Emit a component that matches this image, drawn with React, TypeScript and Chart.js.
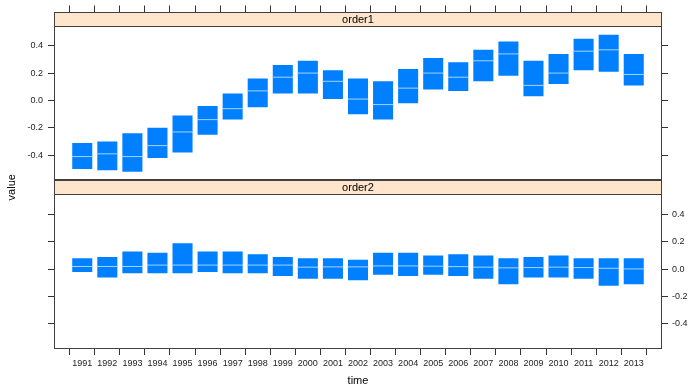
import { useEffect, useRef } from 'react';
import { Chart, registerables } from 'chart.js';

Chart.register(...registerables);

const years = [1991, 1992, 1993, 1994, 1995, 1996, 1997, 1998, 1999, 2000, 2001, 2002, 2003, 2004, 2005, 2006, 2007, 2008, 2009, 2010, 2011, 2012, 2013];
const panels = ['order1', 'order2'];

const order1High = [-0.31, -0.30, -0.24, -0.20, -0.11, -0.04, 0.05, 0.16, 0.26, 0.29, 0.22, 0.16, 0.14, 0.23, 0.31, 0.28, 0.37, 0.43, 0.29, 0.34, 0.45, 0.48, 0.34];
const order1Low = [-0.50, -0.51, -0.52, -0.42, -0.38, -0.25, -0.14, -0.05, 0.05, 0.05, 0.01, -0.10, -0.14, -0.02, 0.08, 0.07, 0.14, 0.18, 0.03, 0.12, 0.22, 0.21, 0.11];
const order1Median = [-0.41, -0.39, -0.41, -0.33, -0.23, -0.14, -0.06, 0.07, 0.17, 0.20, 0.14, 0.01, -0.03, 0.09, 0.20, 0.17, 0.29, 0.34, 0.11, 0.20, 0.36, 0.37, 0.19];

const order2High = [0.08, 0.09, 0.13, 0.12, 0.19, 0.13, 0.13, 0.11, 0.09, 0.08, 0.08, 0.07, 0.12, 0.12, 0.10, 0.11, 0.10, 0.08, 0.09, 0.10, 0.08, 0.08, 0.08];
const order2Low = [-0.02, -0.06, -0.03, -0.03, -0.03, -0.02, -0.03, -0.03, -0.05, -0.07, -0.07, -0.08, -0.04, -0.05, -0.04, -0.05, -0.07, -0.11, -0.06, -0.06, -0.07, -0.12, -0.11];
const order2Median = [0.02, 0.02, 0.02, 0.03, 0.03, 0.03, 0.03, 0.03, 0.03, 0.015, 0.017, 0.017, 0.024, 0.024, 0.022, 0.019, 0.015, 0.01, 0.012, 0.015, 0.012, 0.007, 0.002];

const yTicks = [-0.4, -0.2, 0.0, 0.2, 0.4];
const yMin = -0.583;
const yMax = 0.65;
const xMin = 1990.4;
const xMax = 2013.6;

const FONT = "'Liberation Sans', Arial, Helvetica, sans-serif";
const BAR = '#0080ff';
const MEDIAN = '#a6d3ff';
const STRIP = '#ffe5cc';
const LINE = '#404040';

function yAxis(position: 'left' | 'right', weight: number, showLabels: boolean, width: number) {
  return {
    type: 'linear',
    position,
    stack: position,
    stackWeight: 1,
    weight,
    min: yMin,
    max: yMax,
    afterBuildTicks: (s: any) => {
      s.ticks = yTicks.map((v) => ({ value: v }));
    },
    afterFit: (s: any) => {
      s.width = width;
    },
    grid: { drawOnChartArea: false, drawTicks: true, tickLength: 6, tickColor: '#333', tickWidth: 1 },
    border: { display: false },
    ticks: {
      padding: position === 'left' ? 5 : 4,
      color: '#222',
      font: { family: FONT, size: 9 },
      callback: (v: any) => (showLabels ? Number(v).toFixed(1) : ''),
    },
  };
}

const latticePlugin = {
  id: 'lattice',
  afterDraw(chart: any) {
    const { ctx, chartArea } = chart;
    const ids = ['yTop', 'yBot'];
    const left = chartArea.left;
    const right = chartArea.right;
    ctx.save();
    ids.forEach((id, i) => {
      const s = chart.scales[id];
      const top = Math.round(s.top);
      const bottom = Math.round(s.bottom);
      const stripH = 14;
      ctx.fillStyle = STRIP;
      ctx.fillRect(left, top, right - left, stripH);
      ctx.strokeStyle = LINE;
      ctx.lineWidth = 1;
      ctx.beginPath();
      ctx.moveTo(left, top + stripH + 0.5);
      ctx.lineTo(right, top + stripH + 0.5);
      ctx.stroke();
      ctx.strokeRect(left + 0.5, top + 0.5, right - left - 1, bottom - top - 1);
      ctx.fillStyle = '#000';
      ctx.font = `11px ${FONT}`;
      ctx.textAlign = 'center';
      ctx.textBaseline = 'middle';
      ctx.fillText(panels[i], (left + right) / 2, top + stripH / 2 + 0.5);
    });
    ctx.translate(12, (chartArea.top + chartArea.bottom) / 2 + 7);
    ctx.rotate(-Math.PI / 2);
    ctx.fillStyle = '#000';
    ctx.font = `11px ${FONT}`;
    ctx.textAlign = 'center';
    ctx.textBaseline = 'middle';
    ctx.fillText('value', 0, 0);
    ctx.restore();
  },
};

export default function App() {
  const ref = useRef<HTMLCanvasElement>(null);
  useEffect(() => {
    const canvas = ref.current!;
    const chart = new Chart(canvas, {
      type: 'bar',
      data: {
        datasets: [
          {
            type: 'line',
            label: 'order1 median',
            data: years.map((x, i) => ({ x, y: order1Median[i] })),
            xAxisID: 'x',
            yAxisID: 'yTop',
            showLine: false,
            pointStyle: 'line',
            pointRadius: 10.5,
            pointBorderWidth: 1,
            pointBorderColor: MEDIAN,
            borderColor: MEDIAN,
            order: 1,
          } as any,
          {
            type: 'line',
            label: 'order2 median',
            data: years.map((x, i) => ({ x, y: order2Median[i] })),
            xAxisID: 'x',
            yAxisID: 'yBot',
            showLine: false,
            pointStyle: 'line',
            pointRadius: 10.5,
            pointBorderWidth: 1,
            pointBorderColor: MEDIAN,
            borderColor: MEDIAN,
            order: 1,
          } as any,
          {
            type: 'bar',
            label: 'order1',
            data: years.map((x, i) => ({ x, y: [order1Low[i], order1High[i]] })),
            xAxisID: 'x',
            yAxisID: 'yTop',
            backgroundColor: BAR,
            borderWidth: 0,
            barPercentage: 1,
            categoryPercentage: 0.8,
            stack: 's',
            order: 2,
          } as any,
          {
            type: 'bar',
            label: 'order2',
            data: years.map((x, i) => ({ x, y: [order2Low[i], order2High[i]] })),
            xAxisID: 'x',
            yAxisID: 'yBot',
            backgroundColor: BAR,
            borderWidth: 0,
            barPercentage: 1,
            categoryPercentage: 0.8,
            stack: 's',
            order: 2,
          } as any,
        ],
      },
      options: {
        animation: false,
        responsive: false,
        events: [],
        layout: { padding: 0 },
        plugins: { legend: { display: false }, tooltip: { enabled: false } },
        scales: {
          x: {
            type: 'linear',
            position: 'bottom',
            min: xMin,
            max: xMax,
            stacked: true,
            afterBuildTicks: (s: any) => {
              s.ticks = years.map((v) => ({ value: v }));
            },
            afterFit: (s: any) => {
              s.height = 37;
            },
            grid: { drawOnChartArea: false, drawTicks: true, tickLength: 6, tickColor: '#333' },
            border: { display: false },
            ticks: {
              autoSkip: false,
              maxRotation: 0,
              padding: 3,
              color: '#222',
              font: { family: FONT, size: 9 },
              callback: (v: any) => String(v),
            },
            title: {
              display: true,
              text: 'time',
              color: '#000',
              font: { family: FONT, size: 11, lineHeight: 1 },
              padding: { top: 0, bottom: 0 },
            },
          },
          xTop: {
            type: 'linear',
            position: 'top',
            min: xMin,
            max: xMax,
            afterBuildTicks: (s: any) => {
              s.ticks = years.map((v) => ({ value: v }));
            },
            afterFit: (s: any) => {
              s.height = 11;
            },
            grid: { drawOnChartArea: false, drawTicks: true, tickLength: 6, tickColor: '#333' },
            border: { display: false },
            ticks: { callback: () => '', font: { size: 9 } },
          },
          yTop: yAxis('left', 2, true, 54),
          yBot: yAxis('left', 1, false, 54),
          yTopR: yAxis('right', 1, false, 28),
          yBotR: yAxis('right', 2, true, 28),
        } as any,
      },
      plugins: [latticePlugin],
    });
    return () => chart.destroy();
  }, []);
  return (
    <div style={{ position: 'fixed', left: 0, top: 0, width: 690, height: 386, background: '#fff' }}>
      <canvas ref={ref} width={690} height={386} style={{ display: 'block' }} />
    </div>
  );
}
